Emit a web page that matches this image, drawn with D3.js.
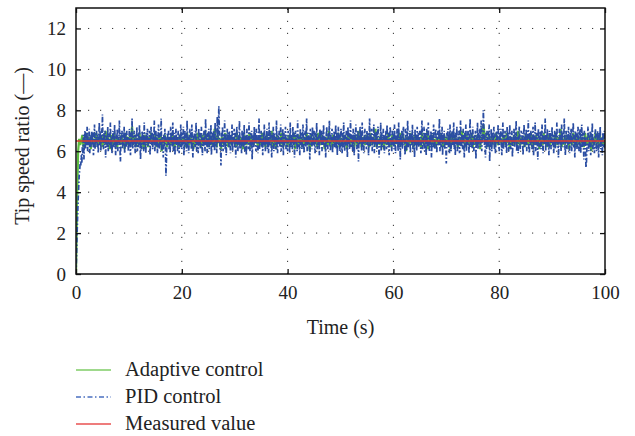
<!DOCTYPE html>
<html><head><meta charset="utf-8">
<script src="https://cdn.jsdelivr.net/npm/d3@7"></script>
<style>body{margin:0;background:#fff}svg{display:block}svg text{font-family:"Liberation Serif","Times New Roman","DejaVu Serif","Noto Serif",serif;fill:#222}</style>
</head><body><svg id="c" width="635" height="436"></svg>
<script>
const pidStep = 0.1;
const adaptiveStep = 0.2;
const xTicks = [0,20,40,60,80,100];
const yTicks = [0,2,4,6,8,10,12];
const measuredValue = 6.5;
const seriesNames = ["Adaptive control","PID control","Measured value"];
const pid = [
0,0.8,1.9,2.8,3.6,4.2,4.8,5.1,5.5,5.3,5.8,5.4,6.2,5.9,6.8,5.6,6.6,7.0,6.1,6.9,6.3,7.2,6.0,6.7,6.4,7.1,5.9,6.8,6.2,6.6,7.0,6.3,6.9,5.8,6.5,7.3,6.1,6.7,6.4,7.0,6.2,6.8,5.9,6.6,7.4,6.3,6.9,6.0,7.1,6.5,
7.8,6.4,6.1,6.9,6.3,7.0,5.7,6.6,6.8,6.2,7.2,6.0,6.5,6.9,6.3,7.4,6.1,6.7,5.9,6.6,7.0,6.4,6.2,7.3,6.5,5.8,6.8,6.3,7.1,6.0,6.7,6.4,7.5,6.2,5.5,6.9,6.6,7.0,6.1,6.8,6.3,7.2,5.9,6.5,6.9,6.2,7.0,6.4,6.7,6.0,
6.6,7.1,6.3,5.8,6.9,6.4,7.6,6.1,6.7,6.2,7.0,6.5,5.9,6.8,6.3,7.2,6.0,6.6,6.9,6.2,7.3,6.4,5.6,6.7,6.1,7.0,6.5,6.8,6.0,7.4,6.3,6.6,5.9,6.9,6.4,7.1,6.2,6.7,6.5,7.0,5.8,6.6,7.2,6.3,6.9,6.1,6.8,6.4,7.5,6.0,
6.5,7.0,6.2,6.8,5.9,6.6,7.3,6.4,6.1,6.9,6.3,7.6,6.0,6.7,6.5,5.7,6.8,6.2,7.1,6.4,4.8,5.6,6.6,6.9,6.3,7.0,6.1,6.7,5.9,7.2,6.4,6.8,6.2,7.4,6.0,6.6,6.9,5.8,6.5,7.1,6.3,6.7,6.0,7.0,6.4,5.9,6.8,6.2,7.3,6.5,
6.1,6.9,6.4,7.2,5.8,6.6,7.0,6.3,6.8,6.0,7.5,6.2,6.7,5.9,6.5,7.1,6.4,6.9,6.1,7.3,6.3,5.7,6.8,6.6,7.0,6.2,6.4,7.4,6.0,6.7,6.5,5.9,7.1,6.3,6.9,6.1,6.6,7.2,6.4,5.8,6.8,6.2,7.0,6.5,6.0,7.6,6.3,6.7,5.9,6.9,
6.4,7.1,6.1,6.8,6.3,7.3,5.8,6.6,6.9,6.2,7.0,6.5,6.0,7.4,6.3,6.7,5.9,7.7,6.4,6.8,8.2,7.0,6.1,6.6,5.3,6.9,6.4,7.2,6.0,6.7,6.3,7.5,6.1,6.8,5.8,6.6,7.1,6.4,6.9,6.2,7.0,6.5,5.9,6.8,6.3,7.3,6.0,6.7,6.4,7.1,
6.2,6.9,5.7,6.6,7.2,6.4,6.0,6.8,6.3,7.5,6.1,6.7,6.5,5.9,7.0,6.3,6.9,6.2,7.3,6.0,6.6,6.8,5.8,7.1,6.4,6.7,6.1,7.4,6.5,6.0,6.9,6.3,7.0,5.6,6.6,6.8,6.2,7.2,6.4,6.9,6.0,7.1,6.5,6.3,5.9,6.7,7.6,6.1,6.8,6.4,
7.0,6.2,6.6,5.8,6.9,6.3,7.3,6.5,6.0,6.8,6.4,7.1,6.1,6.7,5.9,7.4,6.3,6.6,7.0,6.2,5.7,6.8,6.5,7.2,6.0,6.9,6.4,6.7,6.1,7.5,6.3,5.9,6.8,6.6,7.0,6.2,6.5,7.3,6.0,6.7,6.4,7.1,5.8,6.9,6.3,6.6,7.2,6.1,6.8,6.5,
6.0,7.0,6.4,6.7,5.9,7.4,6.2,6.8,6.5,6.1,7.2,6.3,6.9,5.7,6.6,7.0,6.4,6.8,6.0,7.5,6.2,6.7,6.5,5.8,7.1,6.3,6.9,6.1,6.6,7.3,6.4,5.9,6.8,7.0,6.2,6.6,7.6,6.0,6.7,6.3,6.9,6.5,5.6,7.1,6.4,6.8,6.1,7.2,6.3,6.6,
7.0,6.2,5.9,6.9,6.5,7.4,6.1,6.7,6.3,6.8,5.8,7.1,6.4,6.6,7.0,6.0,6.9,6.3,7.3,6.5,6.2,6.7,5.7,6.8,7.2,6.4,6.1,6.9,6.6,7.5,6.3,6.0,6.8,6.5,7.1,5.9,6.7,6.4,7.0,6.2,6.6,7.3,6.1,6.9,5.8,6.5,7.2,6.3,6.8,6.0,
6.7,7.1,6.4,5.9,6.9,6.2,7.4,6.5,6.0,6.8,6.3,7.0,6.6,5.7,7.2,6.4,6.9,6.1,6.7,7.5,6.2,6.8,6.5,6.0,7.1,6.3,5.8,6.9,6.6,7.3,6.4,6.1,6.8,7.0,5.5,6.7,6.3,7.2,6.5,6.9,6.0,7.4,6.2,6.6,5.9,6.8,7.1,6.4,6.7,6.1,
7.0,6.3,6.9,5.8,6.6,7.6,6.2,6.8,6.4,7.1,6.0,6.7,6.5,7.3,5.9,6.9,6.3,6.6,7.0,6.1,6.8,7.2,6.4,5.7,6.7,6.5,7.4,6.0,6.9,6.2,6.6,7.1,6.3,5.9,6.8,6.4,7.0,6.1,7.3,6.5,6.2,6.9,5.8,6.7,7.2,6.3,6.6,6.0,7.0,6.4,
6.8,6.1,7.3,6.5,5.9,6.9,6.3,7.1,6.6,6.0,7.4,6.2,6.7,5.6,6.8,6.4,7.0,6.1,6.9,7.2,6.3,6.6,5.8,7.1,6.5,6.0,6.8,7.5,6.2,6.7,6.4,7.0,5.9,6.6,6.9,6.3,7.3,6.1,6.8,6.5,5.7,7.1,6.4,6.7,6.0,7.2,6.3,6.9,6.2,6.6,
7.0,6.4,5.9,6.8,7.5,6.1,6.6,6.3,7.2,6.0,6.9,6.5,5.8,7.1,6.2,6.7,7.4,6.4,6.0,6.8,6.3,7.0,5.7,6.6,6.9,6.2,7.3,6.5,6.1,6.8,7.1,6.4,5.9,6.7,7.0,6.3,6.6,7.6,6.0,6.9,6.2,6.5,7.2,5.8,6.8,6.4,7.0,6.1,6.7,6.3,
5.4,6.9,6.6,7.1,6.2,6.8,5.9,7.3,6.4,6.0,6.7,7.0,6.3,6.5,7.4,6.1,6.8,5.8,6.9,6.4,7.2,6.0,6.6,6.3,7.0,5.9,6.7,7.5,6.2,6.8,6.5,6.1,7.1,6.4,5.7,6.9,6.6,7.3,6.0,6.7,6.3,7.0,6.5,5.9,6.8,7.6,6.2,6.6,6.9,6.1,
7.2,6.4,6.0,6.8,6.5,7.0,5.6,6.7,6.3,7.4,6.1,6.9,6.5,7.1,6.2,6.6,7.5,6.0,6.8,6.4,8.0,7.2,6.3,6.7,5.7,6.9,6.1,7.0,6.5,6.2,6.8,7.3,5.5,6.6,6.4,7.1,6.0,6.9,6.3,6.7,7.2,6.1,6.5,5.9,6.8,7.0,6.4,6.6,7.3,6.2,
6.0,6.9,6.5,7.1,6.3,5.8,6.7,7.4,6.1,6.8,6.4,7.0,6.2,6.6,5.9,7.2,6.5,6.9,6.0,6.7,7.3,6.3,6.1,6.8,7.0,5.7,6.6,6.4,7.1,6.2,6.9,6.5,7.5,6.0,6.7,6.3,5.9,6.8,7.2,6.4,6.1,6.6,7.0,6.3,6.9,5.8,6.5,7.3,6.2,6.7,
6.4,7.1,6.0,6.8,6.6,7.5,6.2,5.9,6.9,6.3,7.0,6.5,6.1,6.7,7.2,5.8,6.8,6.4,7.4,6.0,6.6,6.9,6.3,5.6,7.1,6.5,6.2,6.8,7.0,6.1,6.7,7.3,6.4,5.9,6.9,6.3,6.6,7.6,6.0,6.8,6.5,7.1,6.2,6.7,5.8,7.0,6.4,6.9,6.1,6.6,
7.2,6.3,6.8,5.9,6.5,7.0,6.1,6.9,6.4,7.4,6.2,6.7,5.7,6.6,7.1,6.3,6.8,6.0,7.3,6.5,6.9,6.2,6.6,7.6,6.4,5.8,6.7,7.0,6.1,6.8,6.3,7.2,6.5,5.9,6.9,6.4,7.1,6.0,6.6,6.8,7.4,6.2,6.5,5.7,7.0,6.3,6.9,6.1,6.7,7.2,
6.4,6.0,6.8,7.1,5.9,6.6,7.3,6.2,6.9,6.5,5.6,7.0,6.3,6.7,5.2,5.5,6.4,6.8,7.2,6.0,6.6,6.3,7.0,5.8,6.9,6.5,7.4,6.1,6.7,6.2,5.9,6.8,7.1,6.4,6.0,6.6,7.0,6.3,5.7,6.9,6.5,7.2,6.1,6.7,6.4,5.8,6.9,6.2,6.6,7.0,6.1];
const adaptive = [
0,3.5,6.0,6.6,6.3,6.5,6.8,6.2,6.6,6.4,6.9,6.3,6.7,6.5,6.1,6.8,6.4,6.6,6.2,6.9,6.5,6.3,6.7,6.4,6.8,
6.2,6.6,6.5,7.0,6.3,6.7,6.4,6.1,6.8,6.5,6.3,6.9,6.4,6.6,6.2,6.7,6.5,6.3,6.8,6.4,6.6,6.1,6.9,6.5,6.3,
6.7,6.4,6.6,7.2,6.3,6.5,6.8,6.2,6.6,6.4,6.9,6.3,6.7,6.5,6.1,6.8,6.4,6.6,6.2,6.7,6.5,6.9,6.3,6.6,6.4,
6.8,6.2,6.5,6.7,6.3,6.9,6.0,6.6,6.4,6.8,6.5,6.2,6.7,6.4,6.6,6.3,6.9,6.5,6.1,6.7,6.4,6.6,6.2,6.8,6.5,
6.3,6.7,6.4,6.6,6.2,6.9,6.5,6.3,6.8,6.4,6.6,6.1,6.7,6.5,6.3,6.9,6.4,6.6,6.2,6.8,6.5,6.3,7.0,6.4,6.6,
6.2,6.8,6.5,6.3,6.7,6.4,7.1,6.5,6.2,6.8,6.4,6.6,6.1,6.7,6.5,6.3,6.9,6.4,6.6,6.2,6.8,6.5,6.3,6.7,6.4,
6.6,6.2,6.9,6.5,6.3,6.7,6.4,6.6,6.1,6.8,6.5,6.3,6.7,6.4,6.9,6.2,6.6,6.5,6.3,6.8,6.4,6.6,6.2,6.7,6.5,
6.3,6.9,6.4,6.6,6.2,6.8,6.5,6.3,6.7,6.4,7.0,6.2,6.6,6.5,6.1,6.8,6.4,6.6,6.3,6.9,6.5,6.2,6.7,6.4,6.6,
6.2,6.8,6.5,6.3,6.7,6.4,6.9,6.1,6.6,6.5,6.3,6.8,6.4,6.6,6.2,6.7,6.5,6.3,6.9,6.4,6.6,6.0,6.8,6.5,6.3,
6.7,6.4,6.6,6.2,6.9,6.5,6.3,6.8,6.4,6.6,6.1,6.7,6.5,6.3,7.0,6.4,6.6,6.2,6.8,6.5,6.3,6.7,6.4,6.9,6.2,
6.6,6.5,6.3,6.8,6.4,6.6,6.1,6.9,6.5,6.3,6.7,6.4,6.6,6.2,6.8,6.5,6.3,7.0,6.4,6.6,6.2,6.7,6.5,6.3,6.8,
6.4,6.6,6.2,6.9,6.5,6.3,6.7,6.4,7.1,6.2,6.6,6.5,6.3,6.8,6.4,6.6,6.1,6.7,6.5,6.3,6.9,6.4,6.6,6.2,6.8,
6.5,6.3,6.7,6.4,6.6,6.2,6.9,6.5,6.3,6.8,6.4,6.6,6.0,6.7,6.5,6.3,6.9,6.4,6.6,6.2,6.8,6.5,6.3,6.7,6.4,
6.6,6.2,6.9,6.5,6.3,6.7,6.4,7.0,6.1,6.6,6.5,6.3,6.8,6.4,6.6,6.2,6.7,6.5,6.3,6.9,6.4,6.6,6.2,6.8,6.5,
6.3,6.7,6.4,6.6,6.1,6.9,6.5,6.3,6.8,6.4,6.6,6.2,6.7,6.5,6.3,7.0,6.4,6.6,6.2,6.8,6.5,6.3,6.7,6.4,6.9,
6.2,6.6,6.5,6.3,6.8,6.4,6.6,6.1,6.7,6.5,7.3,6.9,6.4,6.6,6.2,6.8,6.5,6.3,6.7,6.4,6.6,6.2,6.9,6.5,6.3,
6.7,6.4,6.6,6.2,6.8,6.5,6.3,6.9,6.4,6.6,6.1,6.7,6.5,6.3,6.8,6.4,6.6,6.2,7.0,6.5,6.3,6.7,6.4,6.6,6.2,
6.8,6.5,6.3,6.7,6.4,6.9,6.2,6.6,6.5,6.3,6.8,6.4,6.6,6.1,6.7,6.5,6.3,6.9,6.4,6.6,6.2,6.8,6.5,6.3,6.7,
6.4,6.6,6.2,6.9,6.5,6.3,6.7,6.4,7.1,6.2,6.6,6.5,6.3,6.8,6.4,6.6,6.1,6.7,6.5,6.3,6.9,6.4,6.6,6.2,6.8,
6.5,6.3,6.7,6.4,6.6,6.2,6.9,6.5,6.3,6.8,6.4,6.6,6.0,6.7,6.5,6.3,6.9,6.4,6.6,6.2,6.8,6.5,6.3,6.7,6.4,6.5];

const svg = d3.select("#c");
const m = {l:76, r:605, t:8, b:274};
const x = d3.scaleLinear().domain([0,100]).range([m.l, m.r]);
const y = d3.scaleLinear().domain([0,13]).range([m.b, m.t]);
const colors = {adaptive:"#5dbb3f", pid:"#2a4da2", meas:"#e03a2f"};
const serif = "'Liberation Serif','Times New Roman','DejaVu Serif','Noto Serif',serif";

// grid
const g = svg.append("g");
g.selectAll(".gy").data(yTicks.filter(v=>v>0)).enter().append("line")
 .attr("x1",m.l).attr("x2",m.r).attr("y1",d=>y(d)).attr("y2",d=>y(d))
 .attr("stroke","#333").attr("stroke-width",1).attr("stroke-dasharray","1.2,10.8");
g.selectAll(".gx").data(xTicks.filter(v=>v>0&&v<100)).enter().append("line")
 .attr("y1",m.b).attr("y2",m.t).attr("x1",d=>x(d)).attr("x2",d=>x(d))
 .attr("stroke","#333").attr("stroke-width",1).attr("stroke-dasharray","1.2,10.8");

// data
svg.append("clipPath").attr("id","cp").append("rect")
 .attr("x",m.l).attr("y",m.t).attr("width",m.r-m.l).attr("height",m.b-m.t);
const pg = svg.append("g").attr("clip-path","url(#cp)");
pg.append("path").datum(adaptive)
 .attr("d",d3.line().x((d,i)=>x(i*adaptiveStep)).y(d=>y(d))).attr("fill","none")
 .attr("stroke",colors.adaptive).attr("stroke-width",2.2);
pg.append("path").datum(pid)
 .attr("d",d3.line().x((d,i)=>x(i*pidStep)).y(d=>y(d))).attr("fill","none")
 .attr("stroke",colors.pid).attr("stroke-width",1.7).attr("stroke-dasharray","5,2,1.5,2");
pg.append("line").attr("x1",x(0)).attr("x2",x(100)).attr("y1",y(measuredValue)).attr("y2",y(measuredValue))
 .attr("stroke",colors.meas).attr("stroke-width",1.4);

// axes
const ax = svg.append("g").attr("transform",`translate(0,${m.b})`)
 .call(d3.axisBottom(x).tickValues(xTicks).tickSize(-5).tickPadding(12));
const ay = svg.append("g").attr("transform",`translate(${m.l},0)`)
 .call(d3.axisLeft(y).tickValues(yTicks).tickSize(-5).tickPadding(10));
const at = svg.append("g").attr("transform",`translate(0,${m.t})`)
 .call(d3.axisTop(x).tickValues(xTicks).tickSize(-5).tickFormat(""));
const ar = svg.append("g").attr("transform",`translate(${m.r},0)`)
 .call(d3.axisRight(y).tickValues(yTicks).tickSize(-5).tickFormat(""));
[ax,ay,at,ar].forEach(a=>{a.select(".domain").remove(); a.attr("font-family",serif);
 a.selectAll("line").attr("stroke","#111").attr("stroke-width",1.3);
 a.selectAll("text").attr("font-size",19).style("font-family",serif).attr("fill","#222");});
svg.append("rect").attr("x",m.l).attr("y",m.t).attr("width",m.r-m.l).attr("height",m.b-m.t)
 .attr("fill","none").attr("stroke","#111").attr("stroke-width",1.5);

svg.append("text").attr("x",x(50)).attr("y",334).attr("text-anchor","middle").attr("font-size",20).style("font-family",serif).text("Time (s)");
svg.append("text").attr("transform",`translate(29,146) rotate(-90)`).attr("text-anchor","middle").attr("font-size",20).style("font-family",serif).text("Tip speed ratio (—)");

// legend
const leg = [{n:seriesNames[0],c:"#7fcc66",d:null},{n:seriesNames[1],c:"#4a6fc0",d:"5,2.5,1.5,2.5"},{n:seriesNames[2],c:"#e85050",d:null}];
leg.forEach((l,i)=>{
 const yy = 370 + i*27;
 svg.append("line").attr("x1",76).attr("x2",111).attr("y1",yy).attr("y2",yy)
  .attr("stroke",l.c).attr("stroke-width",1.3).attr("stroke-dasharray",l.d);
 svg.append("text").attr("x",125).attr("y",yy+6).attr("font-size",20.5).style("font-family",serif).text(l.n);
});
</script></body></html>
